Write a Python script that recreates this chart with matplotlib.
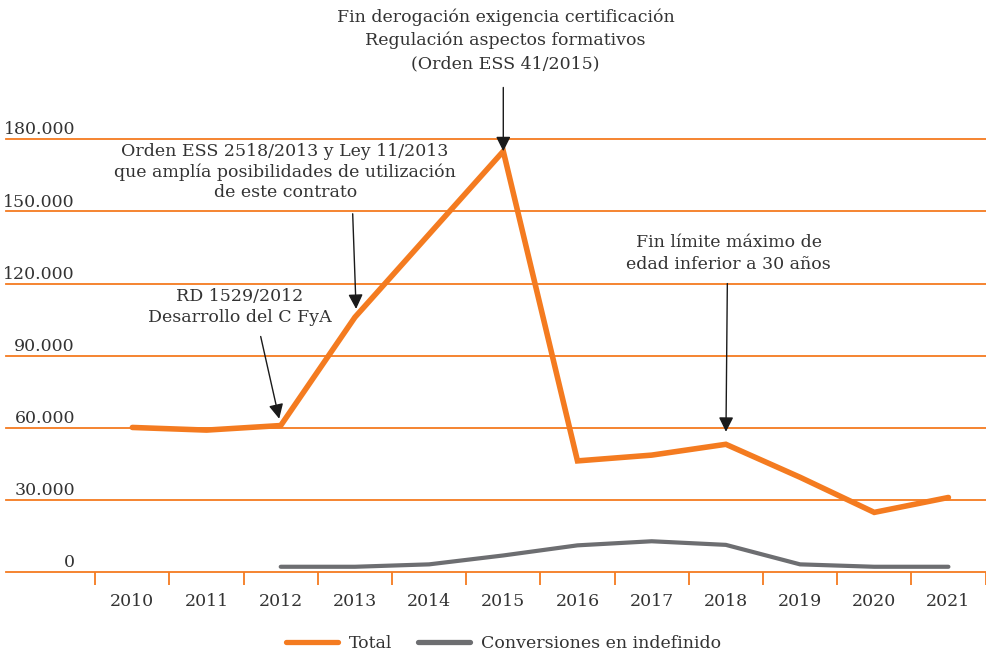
import numpy as np
import matplotlib
matplotlib.use("Agg")
import matplotlib.pyplot as plt
from matplotlib.lines import Line2D
from matplotlib.ticker import FixedLocator

ORANGE = "#F47B20"
GREY = "#6D6E71"
TEXT = "#333333"

years = ["2010", "2011", "2012", "2013", "2014", "2015",
         "2016", "2017", "2018", "2019", "2020", "2021"]
total = [60200, 59100, 61000, 106000, 140500, 175000,
         46300, 48700, 53200, 39500, 24900, 31100]
conversiones = [np.nan, np.nan, 2300, 2300, 3300, 7000,
                11200, 12900, 11400, 3300, 2300, 2300]
yticks = [0, 30000, 60000, 90000, 120000, 150000, 180000]
ytick_labels = ["0", "30.000", "60.000", "90.000", "120.000", "150.000", "180.000"]

plt.rcParams["font.family"] = ["DejaVu Serif"]
plt.rcParams["text.color"] = TEXT
FS = 12.5

W, H = 987, 656
fig = plt.figure(figsize=(W / 100, H / 100), dpi=100)
ax = fig.add_axes([6 / W, (H - 572.3) / H, 981 / W, 572.3 / H])

x = np.arange(len(years))
ax.set_xlim(-1.703, 11.52)
ax.set_ylim(0, 572.3 / 433.1 * 180000)

for v in yticks:
    ax.axhline(v, color=ORANGE, lw=1.3, zorder=1, clip_on=False)
for v, lab in zip(yticks, ytick_labels):
    ax.annotate(lab, xy=(69 / 981, v), xycoords=ax.get_yaxis_transform(),
                xytext=(0, 3.5), textcoords="offset points",
                ha="right", va="baseline", fontsize=FS, color=TEXT)

ax.plot(x, total, color=ORANGE, lw=4.0, solid_capstyle="round",
        solid_joinstyle="miter", zorder=3, clip_on=False)
ax.plot(x, conversiones, color=GREY, lw=3.0, solid_capstyle="round", zorder=3)

for s in ax.spines.values():
    s.set_visible(False)
ax.set_yticks([])
ax.set_xticks(x)
ax.set_xticklabels(years, fontsize=FS, color=TEXT)
ax.xaxis.set_minor_locator(FixedLocator(np.arange(-0.5, 12, 1)))
ax.tick_params(axis="x", which="major", length=0, pad=15)
ax.tick_params(axis="x", which="minor", length=9.5, width=1.3,
               color=ORANGE, direction="out")

arrow = dict(arrowstyle="-|>", color="#1a1a1a", lw=1.0, mutation_scale=22)

ax.annotate("Fin derogación exigencia certificación\n"
            "Regulación aspectos formativos\n(Orden ESS 41/2015)",
            xy=(5, total[5]), xytext=(5.03, 234500), ha="center", va="top",
            fontsize=FS, linespacing=1.45, annotation_clip=False)
ax.annotate("", xy=(5, total[5]), xytext=(5, 201500),
            arrowprops=dict(arrow, shrinkA=0, shrinkB=0))

ax.annotate("Orden ESS 2518/2013 y Ley 11/2013\n"
            "que amplía posibilidades de utilización\nde este contrato",
            xy=(3, total[3]), xytext=(2.06, 178500), ha="center", va="top",
            fontsize=FS, linespacing=1.27)
ax.annotate("", xy=(3.02, total[3]), xytext=(2.97, 149000),
            arrowprops=dict(arrow, shrinkA=0, shrinkB=6))

ax.annotate("RD 1529/2012\nDesarrollo del C FyA",
            xy=(2, total[2]), xytext=(1.45, 118000), ha="center", va="top",
            fontsize=FS, linespacing=1.3)
ax.annotate("", xy=(2, total[2]), xytext=(1.73, 98000),
            arrowprops=dict(arrow, shrinkA=0, shrinkB=5))

ax.annotate("Fin límite máximo de\nedad inferior a 30 años",
            xy=(8, total[8]), xytext=(8.04, 140500), ha="center", va="top",
            fontsize=FS, linespacing=1.33)
ax.annotate("", xy=(8, total[8]), xytext=(8.02, 120000),
            arrowprops=dict(arrow, shrinkA=0, shrinkB=9))

handles = [Line2D([], [], color=ORANGE, lw=3.8, solid_capstyle="round"),
           Line2D([], [], color=GREY, lw=3.8, solid_capstyle="round")]
fig.legend(handles, ["Total", "Conversiones en indefinido"],
           loc="center", bbox_to_anchor=(0.51, 1 - 644 / H), ncol=2,
           frameon=False, fontsize=FS, handlelength=3.0, handletextpad=0.6,
           columnspacing=1.5)

fig.savefig("out.png", dpi=100)
